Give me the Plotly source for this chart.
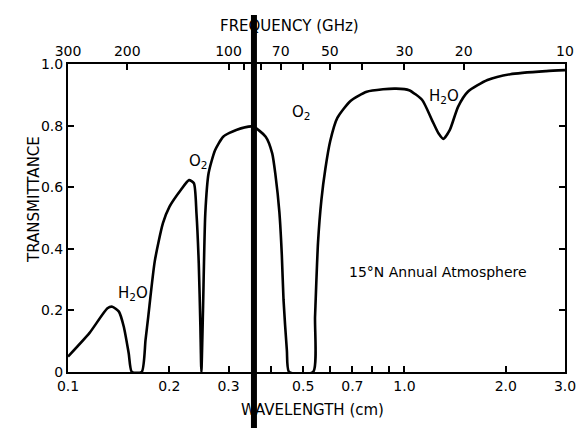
import numpy as np
import plotly.graph_objects as go

# Transmittance curve (15°N annual atmosphere)
wavelength_cm = [0.100, 0.1159, 0.1310, 0.1354, 0.1417, 0.1465, 0.1515, 0.1548, 0.1656, 0.1700,
                 0.1732, 0.1811, 0.1915, 0.2003, 0.2164, 0.2289, 0.2367, 0.2409, 0.2447, 0.2474,
                 0.2491, 0.2519, 0.2559, 0.2617, 0.2736, 0.2893, 0.3163, 0.3538, 0.3868, 0.4045,
                 0.4136, 0.4248, 0.4320, 0.4371, 0.4472, 0.4541, 0.5351, 0.5423, 0.5534, 0.5665,
                 0.5820, 0.6017, 0.6317, 0.6912, 0.7723, 0.8635, 0.9441, 1.032, 1.129, 1.207,
                 1.262, 1.305, 1.364, 1.443, 1.543, 1.765, 2.063, 2.637, 3.000]
transmittance = [0.05, 0.127, 0.207, 0.212, 0.196, 0.147, 0.061, 0.0, 0.0, 0.104,
                 0.18, 0.36, 0.483, 0.537, 0.591, 0.623, 0.613, 0.515, 0.353, 0.15,
                 0.0, 0.2, 0.515, 0.645, 0.72, 0.764, 0.786, 0.797, 0.764, 0.71,
                 0.64, 0.52, 0.38, 0.234, 0.07, 0.0, 0.0, 0.18, 0.42, 0.56,
                 0.66, 0.75, 0.825, 0.88, 0.91, 0.918, 0.92, 0.915, 0.883, 0.818,
                 0.775, 0.757, 0.786, 0.861, 0.91, 0.948, 0.967, 0.977, 0.98]

# Bottom axis ticks (wavelength, cm)
wl_ticks = [0.1, 0.2, 0.3, 0.4, 0.5, 0.6, 0.7, 0.8, 0.9, 1.0, 2.0, 3.0]
wl_labels = ["0.1", "0.2", "0.3", "", "0.5", "", "0.7", "", "", "1.0", "2.0", "3.0"]

# Top axis ticks (frequency, GHz)
freq_ticks = [300, 200, 100, 90, 80, 70, 60, 50, 40, 30, 20, 10]
freq_labels = ["300", "200", "100", "", "", "70", "", "50", "", "30", "20", "10"]

# Left axis ticks
t_ticks = [0, 0.2, 0.4, 0.6, 0.8, 1.0]
t_labels = ["0", "0.2", "0.4", "0.6", "0.8", "1.0"]

# Marker line position (cm)
marker_wavelength = 0.357

# Labels placed in data coordinates (wavelength cm, transmittance)
label_text = ["H<sub>2</sub>O", "O<sub>2</sub>", "O<sub>2</sub>", "H<sub>2</sub>O", "15°N Annual Atmosphere"]
label_wl = [0.1556, 0.2436, 0.4955, 1.308, 1.257]
label_t = [0.256, 0.682, 0.841, 0.893, 0.325]
label_size = [15, 15, 15, 15, 14]

FONT = "DejaVu Sans"
freq_pos = [30.0 / f for f in freq_ticks]
xr = [np.log10(0.1), np.log10(3.0)]

fig = go.Figure()
fig.add_trace(go.Scatter(x=wavelength_cm, y=transmittance, mode="lines",
                         line=dict(color="black", width=2.6, shape="spline", smoothing=0.6),
                         showlegend=False, hoverinfo="skip"))
fig.add_trace(go.Scatter(x=wavelength_cm, y=transmittance, mode="lines", xaxis="x2",
                         line=dict(color="rgba(0,0,0,0)", width=0),
                         showlegend=False, hoverinfo="skip"))

axis_font = dict(family=FONT, size=14, color="black")
fig.update_layout(
    width=588, height=435, autosize=False,
    margin=dict(l=68, r=12, t=64, b=63),
    paper_bgcolor="white", plot_bgcolor="white",
    xaxis=dict(type="log", range=xr, tickmode="array", tickvals=wl_ticks, ticktext=wl_labels,
               ticks="inside", ticklen=6, tickwidth=1.5, tickcolor="black",
               showline=True, linecolor="black", linewidth=2, mirror=False,
               showgrid=False, zeroline=False, tickfont=axis_font),
    xaxis2=dict(type="log", range=xr, overlaying="x", side="top", anchor="y",
                tickmode="array", tickvals=freq_pos, ticktext=freq_labels,
                ticks="inside", ticklen=6, tickwidth=1.5, tickcolor="black",
                showline=True, linecolor="black", linewidth=2,
                showgrid=False, zeroline=False, tickfont=axis_font),
    yaxis=dict(range=[0, 1], tickmode="array", tickvals=t_ticks, ticktext=t_labels,
               ticks="inside", ticklen=6, tickwidth=1.5, tickcolor="black",
               showline=True, linecolor="black", linewidth=2, mirror="ticks",
               showgrid=False, zeroline=False, tickfont=axis_font),
)

annotations = []
for txt, xw, yt, sz in zip(label_text, label_wl, label_t, label_size):
    annotations.append(dict(x=np.log10(xw), y=yt, xref="x", yref="y", text=txt,
                            showarrow=False, font=dict(family=FONT, size=sz, color="black")))
annotations += [
    dict(x=0.445, y=1.159, xref="paper", yref="paper", text="FREQUENCY (GHz)",
         showarrow=False, font=dict(family=FONT, size=15, color="black")),
    dict(x=0.492, y=-0.159, xref="paper", yref="paper", text="WAVELENGTH (cm)",
         showarrow=False, font=dict(family=FONT, size=15, color="black")),
    dict(x=-0.0906, y=0.562, xref="paper", yref="paper", text="TRANSMITTANCE",
         textangle=-90, showarrow=False, font=dict(family=FONT, size=15, color="black")),
]
fig.update_layout(annotations=annotations)

fig.add_shape(type="line", xref="x", yref="paper", x0=marker_wavelength, x1=marker_wavelength,
              y0=-0.182, y1=1.159, line=dict(color="black", width=6), layer="above")

fig.write_html("out.html", config={"displayModeBar": False},
               post_script="document.body.style.margin='0';document.body.style.overflow='hidden';")
